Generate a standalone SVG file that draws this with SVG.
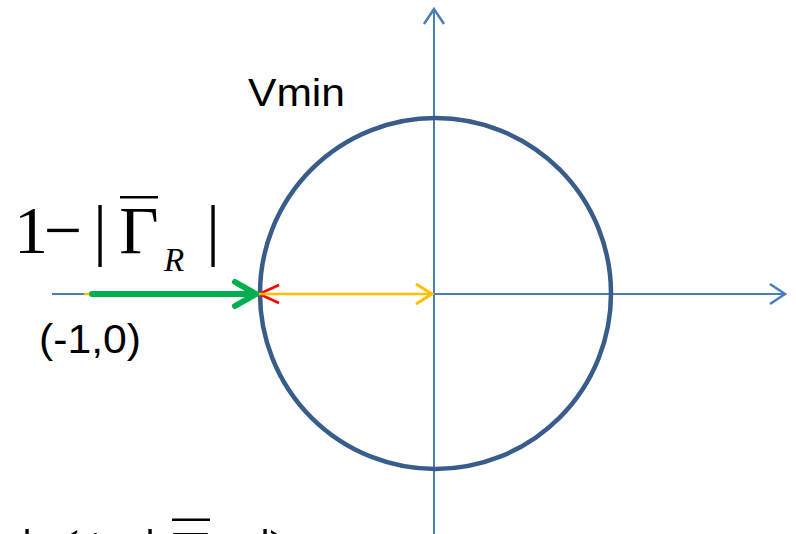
<svg xmlns="http://www.w3.org/2000/svg" width="796" height="534" viewBox="0 0 796 534">
<style>
.axis{stroke:#4A7EBB;stroke-width:2;fill:none}
.sans{font-family:"Liberation Sans","Open Sans",Arial,sans-serif;fill:#000}
.serif{font-family:"Liberation Serif","Times New Roman",serif;fill:#000}
</style>
<defs>
<marker id="mBlue" markerUnits="userSpaceOnUse" viewBox="-20 -12 24 24" refX="0" refY="0" markerWidth="24" markerHeight="24" orient="auto" overflow="visible">
<polyline points="-15,-10 0,0 -15,10" fill="none" stroke="#4A7EBB" stroke-width="2.5"/>
</marker>
<marker id="mGreen" markerUnits="userSpaceOnUse" viewBox="-30 -16 34 32" refX="0" refY="0" markerWidth="34" markerHeight="32" orient="auto" overflow="visible">
<polyline points="-21,-12 0,0 -21,12" fill="none" stroke="#00B050" stroke-width="6" stroke-linecap="round" stroke-linejoin="round"/>
</marker>
<marker id="mOrange" markerUnits="userSpaceOnUse" viewBox="-20 -12 24 24" refX="0" refY="0" markerWidth="24" markerHeight="24" orient="auto" overflow="visible">
<polyline points="-16,-10 0,0 -16,10" fill="none" stroke="#FFC000" stroke-width="3"/>
</marker>
<marker id="mRed" markerUnits="userSpaceOnUse" viewBox="-22 -12 24 24" refX="0" refY="0" markerWidth="24" markerHeight="24" orient="auto-start-reverse" overflow="visible">
<polyline points="-20,-9 0,0 -20,9" fill="none" stroke="#FF0000" stroke-width="2.5"/>
</marker>
</defs>
<rect width="796" height="534" fill="#fff"/>
<g id="axes">
<line class="axis" x1="52" y1="294" x2="785" y2="294" marker-end="url(#mBlue)"/>
<line class="axis" x1="434" y1="534" x2="434" y2="9" marker-end="url(#mBlue)"/>
</g>
<g id="circle">
<circle cx="435.5" cy="293.5" r="175.5" fill="none" stroke="#385D8A" stroke-width="4.5"/>
</g>
<g id="connectors">
<line x1="259" y1="294" x2="432" y2="294" stroke="#FF0000" stroke-width="2" marker-start="url(#mRed)"/>
<line x1="84" y1="294" x2="432" y2="294" stroke="#FFC000" stroke-width="2.5" marker-end="url(#mOrange)"/>
<line x1="92" y1="294" x2="256" y2="294" stroke="#00B050" stroke-width="6" stroke-linecap="round" marker-end="url(#mGreen)"/>
</g>
<g id="label-vmin">
<text class="sans" x="248" y="106" font-size="38" textLength="97" lengthAdjust="spacingAndGlyphs">Vmin</text>
</g>
<g id="label-point">
<text class="sans" x="39" y="353" font-size="40" textLength="102" lengthAdjust="spacingAndGlyphs">(-1,0)</text>
</g>
<g id="label-formula">
<text class="serif" font-size="68" y="253" text-anchor="middle"><tspan x="31">1</tspan><tspan x="63">−</tspan><tspan x="100">|</tspan><tspan x="139">Γ</tspan><tspan x="213">|</tspan></text>
<text class="serif" font-size="33" font-style="italic" x="174" y="271" text-anchor="middle">R</text>
<rect x="120" y="196" width="38" height="2.5" fill="#000"/>
</g>
<g id="label-bottom">
<text class="serif" font-size="68" y="577" text-anchor="middle"><tspan x="27">|</tspan><tspan x="68">(</tspan><tspan x="93">1</tspan><tspan x="150">|</tspan><tspan x="191">Γ</tspan><tspan x="265">|</tspan><tspan x="280">)</tspan></text>
<rect x="172" y="518.5" width="38" height="2.5" fill="#000"/>
</g>
</svg>
